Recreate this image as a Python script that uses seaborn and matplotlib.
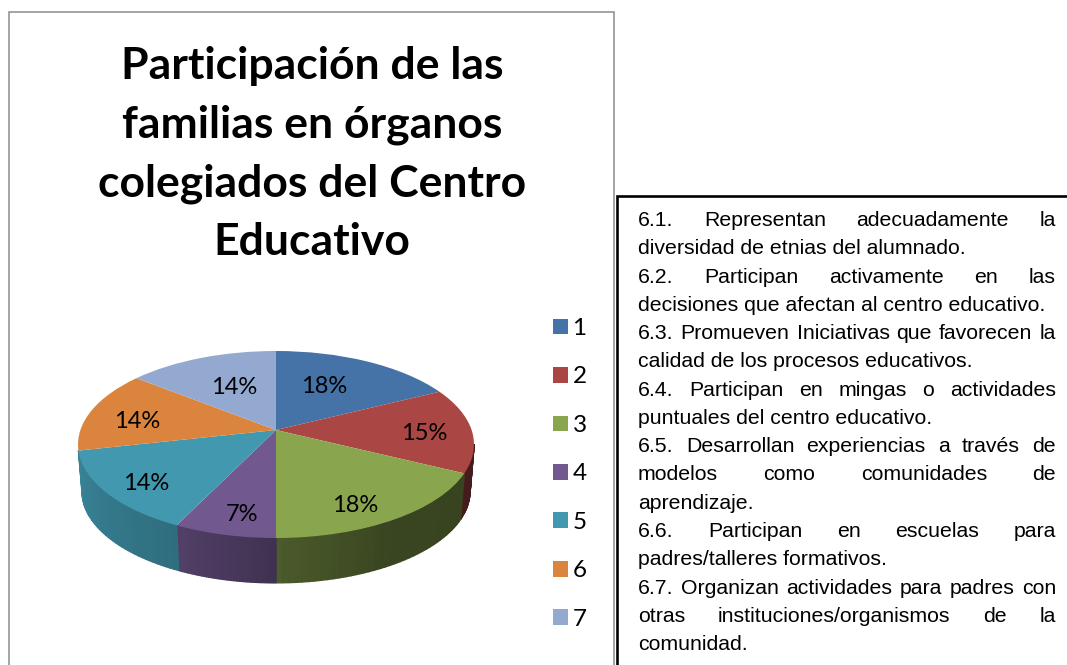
import matplotlib
matplotlib.use("Agg")
import matplotlib.pyplot as plt
from matplotlib.transforms import Transform
import numpy as np
import seaborn as sns

title_lines = ["Participación de las", "familias en órganos", "colegiados del Centro", "Educativo"]
series = ["1", "2", "3", "4", "5", "6", "7"]
values = [17.6, 14.7, 17.7, 7.2, 14.3, 14.2, 14.3]
slice_colors = ["#4572A7", "#AA4643", "#89A54E", "#71588F", "#4198AF", "#DB843D", "#93A9CF"]
label_radius = [0.55, 0.757, 0.78, 0.75, 0.75, 0.75, 0.55]
label_dx = [-5, 0, -11, 3, -6, 0, 2]
label_dy = [-4, 4, 8, 9, 8, 6, -1]

# (text, justified to the box width or not)
note_lines = [
    ("6.1. Representan adecuadamente la", True),
    ("diversidad de etnias del alumnado.", False),
    ("6.2. Participan activamente en las", True),
    ("decisiones que afectan al centro educativo.", False),
    ("6.3. Promueven Iniciativas que favorecen la", True),
    ("calidad de los procesos educativos.", False),
    ("6.4. Participan en mingas o actividades", True),
    ("puntuales del centro educativo.", False),
    ("6.5. Desarrollan experiencias a través de", True),
    ("modelos como comunidades de", True),
    ("aprendizaje.", False),
    ("6.6. Participan en escuelas para", True),
    ("padres/talleres formativos.", False),
    ("6.7. Organizan actividades para padres con", True),
    ("otras instituciones/organismos de la", True),
    ("comunidad.", False),
]

W, H = 1067, 665
CX, CY = 276, 430      # where the slices meet, in pixels
RX, RY, TILT = 195.6, 91.25, 0.155
DEPTH, SHRINK = 47, 0.98
NOTE_SIZE = 15.3


class PieTilt(Transform):
    '''Perspective view of the unit circle, gives pixel positions.'''
    input_dims = 2
    output_dims = 2

    def __init__(self, shrink=1.0, drop=0.0):
        super().__init__()
        self.shrink = shrink
        self.drop = drop

    def transform_non_affine(self, xy):
        xy = np.asarray(xy, dtype=float)
        den = 1 + TILT * xy[:, 1]
        return np.column_stack([CX + self.shrink * RX * xy[:, 0] / den,
                                CY + self.drop - self.shrink * RY * xy[:, 1] / den])


def wall_shade(angle):
    # angle in degrees clockwise from the top, the wall gets darker to the right
    return np.interp(angle, [100, 150, 178, 185, 205, 260], [0.40, 0.42, 0.54, 0.60, 0.72, 0.88])


sns.set_theme(style="white")
plt.rcParams["font.family"] = ["Lato", "DejaVu Sans"]

fig = plt.figure(figsize=(W / 100, H / 100), dpi=100, facecolor="white")
ax = fig.add_axes([0, 0, 1, 1])

wedges, _ = ax.pie(values, colors=sns.color_palette(slice_colors), startangle=90, counterclock=False)
ax.set_aspect("auto")
ax.set_xlim(0, W)
ax.set_ylim(H, 0)
ax.axis("off")

top = PieTilt()
bottom = PieTilt(SHRINK, DEPTH)
for wedge in wedges:
    wedge.set_transform(top + ax.transData)
    wedge.set_zorder(3)
    wedge.set_linewidth(0)

    # side wall, thin strips so the shading can change along the rim
    steps = np.radians(np.linspace(wedge.theta1, wedge.theta2, 40))
    for a0, a1 in zip(steps[:-1], steps[1:]):
        clock = (90 - np.degrees((a0 + a1) / 2)) % 360
        if clock < 99 or clock > 258:  # hidden behind the top face
            continue
        ring = np.array([[np.cos(a0), np.sin(a0)], [np.cos(a1), np.sin(a1)]])
        outline = np.vstack([top.transform(ring), bottom.transform(ring)[::-1]])
        shade = wall_shade(clock) * np.array(matplotlib.colors.to_rgb(wedge.get_facecolor()))
        ax.fill(outline[:, 0], outline[:, 1], color=tuple(shade), lw=1.0, zorder=2)

# percent labels
for wedge, value, rad, dx, dy in zip(wedges, values, label_radius, label_dx, label_dy):
    mid = np.radians((wedge.theta1 + wedge.theta2) / 2)
    px, py = top.transform(np.array([[rad * np.cos(mid), rad * np.sin(mid)]]))[0]
    ax.text(px + dx, py + dy, f"{value:.0f}%", ha="center", va="center", fontsize=17, color="black", zorder=5)

# title
for ii, line in enumerate(title_lines):
    ax.text(312, 66 + ii * 58.7, line, ha="center", va="center", fontsize=32, fontweight="bold", color="black")

ax.legend(wedges, series, loc="upper left", bbox_to_anchor=(553 / W, 1 - 318 / H), frameon=False,
          fontsize=17.5, handlelength=0.62, handleheight=0.62, handletextpad=0.18,
          labelspacing=1.13, borderpad=0, borderaxespad=0, labelcolor="black")

# chart frame and note box run off the bottom and right of the picture
ax.plot([9, 9, 614, 614], [H, 12, 12, H], color="#8c8c8c", lw=1.1, zorder=6, solid_joinstyle="miter")
ax.plot([617, 617, W], [H, 196, 196], color="black", lw=1.9, zorder=6, solid_joinstyle="miter")

# note text, justified word by word
renderer = fig.canvas.get_renderer()
left, right = 638, 1056
for ii, (line, justify) in enumerate(note_lines):
    y = 226 + ii * 28.27
    if not justify:
        ax.text(left, y, line, ha="left", va="baseline", fontsize=NOTE_SIZE, family="Liberation Sans", color="black")
        continue
    words = [ax.text(left, y, w, ha="left", va="baseline", fontsize=NOTE_SIZE, family="Liberation Sans", color="black")
             for w in line.split()]
    widths = [t.get_window_extent(renderer).width for t in words]
    gap = (right - left - sum(widths)) / (len(words) - 1)
    x = left
    for t, w in zip(words, widths):
        t.set_x(x)
        x += w + gap

fig.savefig("out.png", dpi=100)
